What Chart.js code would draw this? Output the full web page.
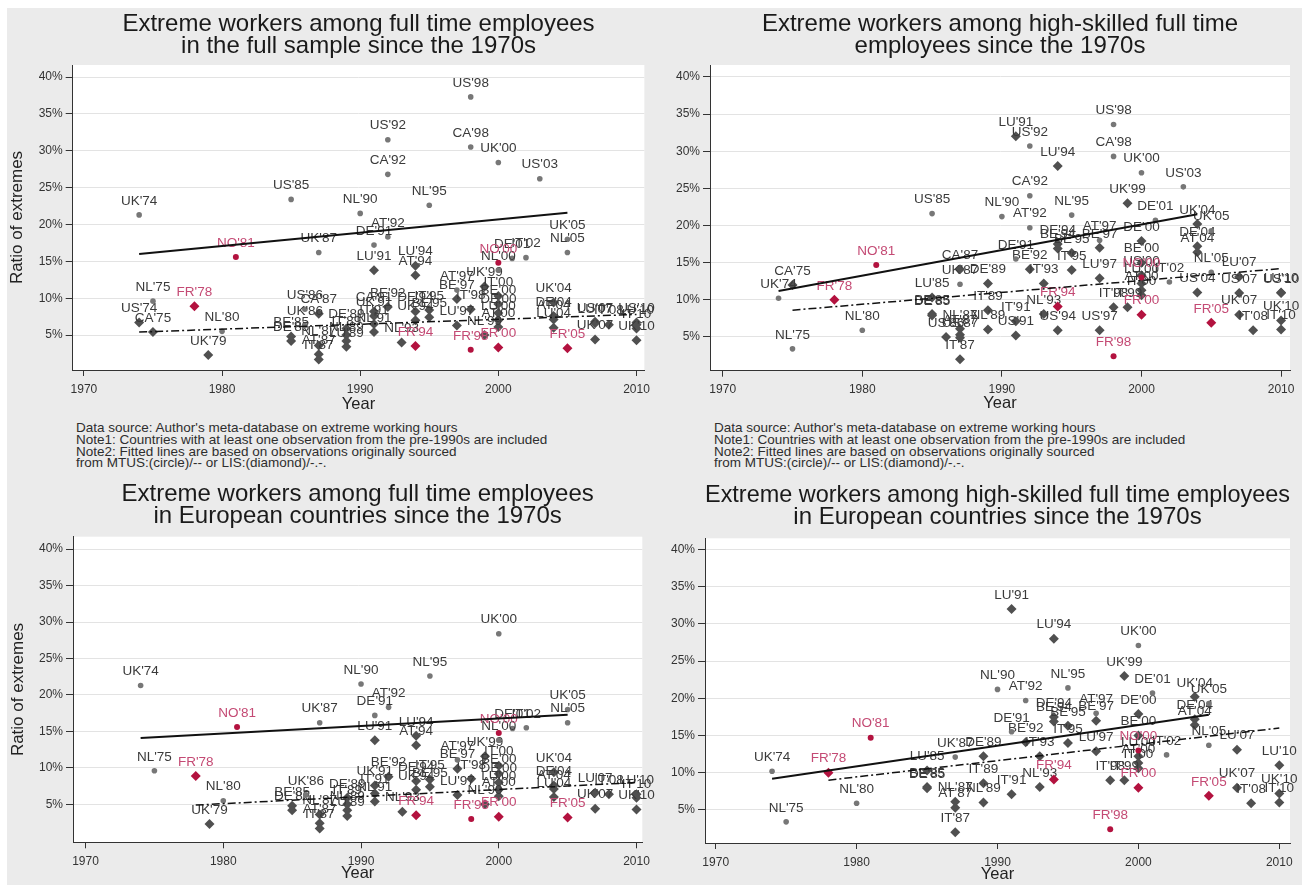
<!DOCTYPE html>
<html>
<head>
<meta charset="utf-8">
<script src="https://cdn.jsdelivr.net/npm/chart.js@4.4.1/dist/chart.umd.min.js"></script>
<style>
  html, body { margin: 0; padding: 0; background: #ffffff; }
  #fig { position: relative; width: 1312px; height: 888px; overflow: hidden; background: #ffffff; }
  #bg { position: absolute; left: 7px; top: 8px; width: 1295px; height: 877px; background: #ebebeb; }
  canvas { position: absolute; }
  .note {
    position: absolute; font-family: "Liberation Sans", Arial, Helvetica, sans-serif;
    font-size: 13.5px; line-height: 11.8px; color: #2e2e2e; white-space: nowrap;
  }
</style>
</head>
<body>
<div id="fig">
  <div id="bg"></div>
  <canvas id="c1" width="656" height="420" style="left:0px;top:0px;width:656px;height:420px"></canvas>
  <canvas id="c2" width="650" height="420" style="left:656px;top:0px;width:650px;height:420px"></canvas>
  <canvas id="c3" width="656" height="418" style="left:0px;top:470px;width:656px;height:418px"></canvas>
  <canvas id="c4" width="650" height="418" style="left:656px;top:470px;width:650px;height:418px"></canvas>
  <div class="note" style="left:76px;top:422px">Data source: Author's meta-database on extreme working hours<br>Note1: Countries with at least one observation from the pre-1990s are included<br>Note2: Fitted lines are based on observations originally sourced<br>from MTUS:(circle)/-- or LIS:(diamond)/-.-.</div>
  <div class="note" style="left:714px;top:422px">Data source: Author's meta-database on extreme working hours<br>Note1: Countries with at least one observation from the pre-1990s are included<br>Note2: Fitted lines are based on observations originally sourced<br>from MTUS:(circle)/-- or LIS:(diamond)/-.-.</div>
</div>
<script>
// ---- axis ticks ----
const yTickValues = [5, 10, 15, 20, 25, 30, 35, 40];
const xTickValues = [1970, 1980, 1990, 2000, 2010];

// ---- full time employees: MTUS observations (circles) ----
const ftMtusLabels = ["UK'74","NL'75","NL'80","NO'81","US'85","US'86","UK'86","UK'87","NL'90","DE'91",
  "US'92","CA'92","AT'92","NL'95","AT'97","US'98","CA'98","FR'98","UK'00","NO'00",
  "NL'00","DE'01","IT'02","US'03","UK'05","NL'05"];
const ftMtusYears = [1974,1975,1980,1981,1985,1986,1986,1987,1990,1991,
  1992,1992,1992,1995,1997,1998,1998,1998,2000,2000,
  2000,2001,2002,2003,2005,2005];
const ftMtusValues = [21.3,9.6,5.5,15.6,23.4,8.5,6.3,16.2,21.5,17.2,
  31.5,26.8,18.3,22.6,11.1,37.3,30.5,3.0,28.4,14.8,
  13.8,15.4,15.5,26.2,18.0,16.2];

// ---- full time employees: LIS observations (diamonds) ----
const ftLisLabels = ["US'74","CA'75","FR'78","UK'79","BE'85","DE'85","CA'87","NL'87","AT'87","IT'87",
  "DE'89","IT'89","NL'89","LU'89","LU'91","CA'91","UK'91","IT'91","NL'91","BE'92",
  "NL'93","LU'94","AT'94","DE'94","UK'94","FR'94","IT'95","BE'95","BE'97","LU'97",
  "IT'98","UK'99","NL'99","IT'00","BE'00","DE'00","LU'00","AT'00","FR'00","UK'04",
  "DE'04","AT'04","LU'04","FR'05","US'07","LU'07","UK'07","IT'08","US'10","LU'10",
  "IT'10","UK'10"];
const ftLisYears = [1974,1975,1978,1979,1985,1985,1987,1987,1987,1987,
  1989,1989,1989,1989,1991,1991,1991,1991,1991,1992,
  1993,1994,1994,1994,1994,1994,1995,1995,1997,1997,
  1998,1999,1999,2000,2000,2000,2000,2000,2000,2004,
  2004,2004,2004,2005,2007,2007,2007,2008,2010,2010,
  2010,2010];
const ftLisValues = [6.7,5.4,8.9,2.3,4.8,4.2,7.9,3.6,2.4,1.7,
  5.9,5.0,4.2,3.4,13.8,8.2,7.6,6.5,5.4,8.8,
  4.0,14.4,13.1,8.2,7.0,3.5,8.4,7.4,9.9,6.3,
  8.5,11.6,5.0,10.3,9.2,8.0,7.0,6.1,3.3,9.4,
  7.6,7.1,6.0,3.2,6.8,6.6,4.4,6.4,6.7,6.4,
  5.9,4.3];

// ---- high-skilled full time employees: MTUS observations (circles) ----
const hsMtusLabels = ["UK'74","NL'75","NL'80","NO'81","US'85","UK'87","NL'90","DE'91","US'92","CA'92",
  "AT'92","NL'95","AT'97","US'98","CA'98","FR'98","UK'00","NO'00","DE'01","IT'02",
  "US'03","UK'05","NL'05"];
const hsMtusYears = [1974,1975,1980,1981,1985,1987,1990,1991,1992,1992,
  1992,1995,1997,1998,1998,1998,2000,2000,2001,2002,
  2003,2005,2005];
const hsMtusValues = [10.2,3.4,5.9,14.7,21.6,12.1,21.2,15.5,30.7,24.0,
  19.7,21.4,18.0,33.6,29.3,2.4,27.1,13.0,20.7,12.4,
  25.2,19.3,13.7];

// ---- high-skilled full time employees: LIS observations (diamonds) ----
const hsLisLabels = ["CA'75","FR'78","LU'85","BE'85","DE'85","US'86","CA'87","NL'87","AT'87","US'87",
  "IT'87","DE'89","IT'89","NL'89","LU'91","IT'91","US'91","BE'92","IT'93","NL'93",
  "DE'94","BE'94","LU'94","FR'94","US'94","BE'95","IT'95","BE'97","LU'97","US'97",
  "IT'98","UK'99","IT'99","DE'00","BE'00","US'00","LU'00","AT'00","IT'00","FR'00",
  "UK'04","DE'04","AT'04","US'04","FR'05","LU'07","US'07","UK'07","IT'08","LU'10",
  "US'10","UK'10","IT'10"];
const hsLisYears = [1975,1978,1985,1985,1985,1986,1987,1987,1987,1987,
  1987,1989,1989,1989,1991,1991,1991,1992,1993,1993,
  1994,1994,1994,1994,1994,1995,1995,1997,1997,1997,
  1998,1999,1999,2000,2000,2000,2000,2000,2000,2000,
  2004,2004,2004,2004,2005,2007,2007,2007,2008,2010,
  2010,2010,2010];
const hsLisValues = [12.0,10.0,10.3,8.1,7.9,5.0,14.1,6.1,5.3,4.9,
  2.0,12.2,8.6,6.0,32.0,7.1,5.2,14.1,12.2,8.1,
  17.5,16.9,28.0,9.1,5.9,16.3,14.0,17.0,12.9,5.9,
  9.0,23.0,9.0,17.9,15.0,13.3,12.2,11.3,10.6,8.0,
  20.2,17.2,16.4,11.0,6.9,13.1,10.9,8.0,5.9,11.0,
  10.9,7.2,6.0];

// ---- fitted lines (end points) ----
const fitFullMtus = [{x: 1974, y: 16.0}, {x: 2005, y: 21.6}];
const fitFullLis = [{x: 1974, y: 5.4}, {x: 2010, y: 7.8}];
const fitHighMtus = [{x: 1974, y: 11.2}, {x: 2004, y: 21.5}];
const fitHighLis = [{x: 1975, y: 8.6}, {x: 2010, y: 14.2}];
const fitEuroMtus = [{x: 1974, y: 14.1}, {x: 2005, y: 17.3}];
const fitEuroLis = [{x: 1978, y: 4.9}, {x: 2010, y: 8.0}];
const fitEuroHighMtus = [{x: 1974, y: 9.2}, {x: 2005, y: 17.8}];
const fitEuroHighLis = [{x: 1978, y: 9.0}, {x: 2010, y: 16.0}];

const highlightCountries = ['FR', 'NO'];
const nonEuropean = ['US', 'CA'];

// ---- helpers ----
const FONT = '"Liberation Sans", Arial, Helvetica, sans-serif';
Chart.defaults.font.family = FONT;
Chart.defaults.animation = false;

const countryOf = lab => lab.slice(0, 2);
const isRed = lab => highlightCountries.includes(countryOf(lab));
const isEuro = lab => !nonEuropean.includes(countryOf(lab));

function pick(labels, years, values, keep) {
  const out = [];
  labels.forEach((lab, i) => { if (keep(lab)) out.push({x: years[i], y: values[i], label: lab}); });
  return out;
}

// white plotting region
const plotBackground = {
  id: 'plotBackground',
  beforeDraw(chart) {
    const a = chart.chartArea, ctx = chart.ctx;
    ctx.save();
    ctx.fillStyle = '#ffffff';
    ctx.fillRect(a.left, a.top, a.right - a.left, a.bottom - a.top);
    ctx.restore();
  }
};

// marker labels drawn above each point
const pointLabels = {
  id: 'pointLabels',
  afterDatasetDraw(chart, args) {
    const ds = chart.data.datasets[args.index];
    if (!ds.labelColor) return;
    const ctx = chart.ctx;
    ctx.save();
    ctx.font = '13.5px ' + FONT;
    ctx.fillStyle = ds.labelColor;
    ctx.textAlign = 'center';
    ctx.textBaseline = 'middle';
    args.meta.data.forEach((el, i) => {
      ctx.fillText(ds.data[i].label, el.x, el.y - 14);
    });
    ctx.restore();
  }
};

function makePanel(id, spec) {
  const keep = spec.europeOnly ? isEuro : () => true;
  const mtus = pick(spec.mtus[0], spec.mtus[1], spec.mtus[2], keep);
  const lis = pick(spec.lis[0], spec.lis[1], spec.lis[2], keep);
  const canvas = document.getElementById(id);
  const W = canvas.width, H = canvas.height, A = spec.area;

  const datasets = [
    {data: spec.fitMtus, showLine: true, borderColor: '#111', borderWidth: 2, pointRadius: 0},
    {data: spec.fitLis, showLine: true, borderColor: '#111', borderWidth: 1.5, borderDash: [8, 3, 2, 3], pointRadius: 0},
    {data: mtus.filter(p => isRed(p.label)), pointStyle: 'circle', pointRadius: 3, backgroundColor: '#b3123f', borderWidth: 0, labelColor: '#c44a74'},
    {data: lis.filter(p => isRed(p.label)), pointStyle: 'rectRot', pointRadius: 5, backgroundColor: '#b3123f', borderWidth: 0, labelColor: '#c44a74'},
    {data: mtus.filter(p => !isRed(p.label)), pointStyle: 'circle', pointRadius: 2.8, backgroundColor: '#777777', borderWidth: 0, labelColor: '#3a3a3a'},
    {data: lis.filter(p => !isRed(p.label)), pointStyle: 'rectRot', pointRadius: 5, backgroundColor: '#505050', borderWidth: 0, labelColor: '#3a3a3a'}
  ];

  new Chart(canvas, {
    type: 'scatter',
    data: {datasets},
    options: {
      responsive: false,
      devicePixelRatio: 1,
      layout: {padding: {left: 0, top: 0, right: W - A.r, bottom: 0}},
      plugins: {
        legend: {display: false},
        tooltip: {enabled: false},
        title: {
          display: true, fullSize: false, text: spec.title, color: '#1a1a1a',
          font: {size: 24, weight: 'normal', lineHeight: '22px'},
          padding: {top: spec.titlePad[0], bottom: spec.titlePad[1]}
        }
      },
      scales: {
        x: {
          type: 'linear', min: spec.xRange[0], max: spec.xRange[1],
          afterBuildTicks: s => { s.ticks = xTickValues.map(v => ({value: v})); },
          afterFit: s => { s.height = H - A.b; },
          ticks: {autoSkip: false, color: '#333', font: {size: 12}, padding: 6, maxRotation: 0, callback: v => String(v)},
          grid: {drawOnChartArea: false, drawTicks: true, tickLength: 6, tickColor: '#333', color: '#333'},
          border: {display: true, color: '#333', width: 1},
          title: {display: true, text: 'Year', color: '#222', font: {size: 16.5}, padding: {top: 0, bottom: spec.yearPad}}
        },
        y: {
          type: 'linear', min: spec.yRange[0], max: spec.yRange[1],
          afterBuildTicks: s => { s.ticks = yTickValues.map(v => ({value: v})); },
          afterFit: s => { s.width = A.l; },
          ticks: {autoSkip: false, color: '#333', font: {size: 12}, padding: 3, callback: v => v + '%'},
          grid: {drawOnChartArea: true, drawTicks: true, tickLength: 7, tickColor: '#333', color: '#e3e3e3'},
          border: {display: true, color: '#333', width: 1},
          title: {display: !!spec.yTitle, text: 'Ratio of extremes', color: '#222', font: {size: 17}, padding: {top: spec.yTitlePad || 0, bottom: 0}}
        }
      }
    },
    plugins: [plotBackground, pointLabels]
  });
}

makePanel('c1', {
  title: ['Extreme workers among full time employees', 'in the full sample since the 1970s'],
  area: {l: 72.7, t: 65, r: 650, b: 370},
  xRange: [1969.19, 2010.57], yRange: [0.26, 41.63],
  titlePad: [13.7, 7.3], yearPad: 6, yTitle: true, yTitlePad: 7.3,
  mtus: [ftMtusLabels, ftMtusYears, ftMtusValues], lis: [ftLisLabels, ftLisYears, ftLisValues],
  fitMtus: fitFullMtus, fitLis: fitFullLis
});
makePanel('c2', {
  title: ['Extreme workers among high-skilled full time', 'employees since the 1970s'],
  area: {l: 54, t: 65, r: 634, b: 370.7},
  xRange: [1969.09, 2010.64], yRange: [0.46, 41.6],
  titlePad: [13.7, 7.3], yearPad: 6.6, yTitle: false,
  mtus: [hsMtusLabels, hsMtusYears, hsMtusValues], lis: [hsLisLabels, hsLisYears, hsLisValues],
  fitMtus: fitHighMtus, fitLis: fitHighLis
});
makePanel('c3', {
  title: ['Extreme workers among full time employees', 'in European countries since the 1970s'],
  area: {l: 73, t: 66.7, r: 650, b: 372.3},
  xRange: [1969.09, 2010.42], yRange: [-0.2, 41.7],
  titlePad: [13.7, 9], yearPad: 5.1, yTitle: true, yTitlePad: 7.8, europeOnly: true,
  mtus: [ftMtusLabels, ftMtusYears, ftMtusValues], lis: [ftLisLabels, ftLisYears, ftLisValues],
  fitMtus: fitEuroMtus, fitLis: fitEuroLis
});
makePanel('c4', {
  title: ['Extreme workers among high-skilled full time employees', 'in European countries since the 1970s'],
  area: {l: 49, t: 68.3, r: 634, b: 373},
  xRange: [1969.24, 2010.76], yRange: [0.56, 41.5],
  titlePad: [14.7, 9.6], yearPad: 4.1, yTitle: false, europeOnly: true,
  mtus: [hsMtusLabels, hsMtusYears, hsMtusValues], lis: [hsLisLabels, hsLisYears, hsLisValues],
  fitMtus: fitEuroHighMtus, fitLis: fitEuroHighLis
});
</script>
</body>
</html>
